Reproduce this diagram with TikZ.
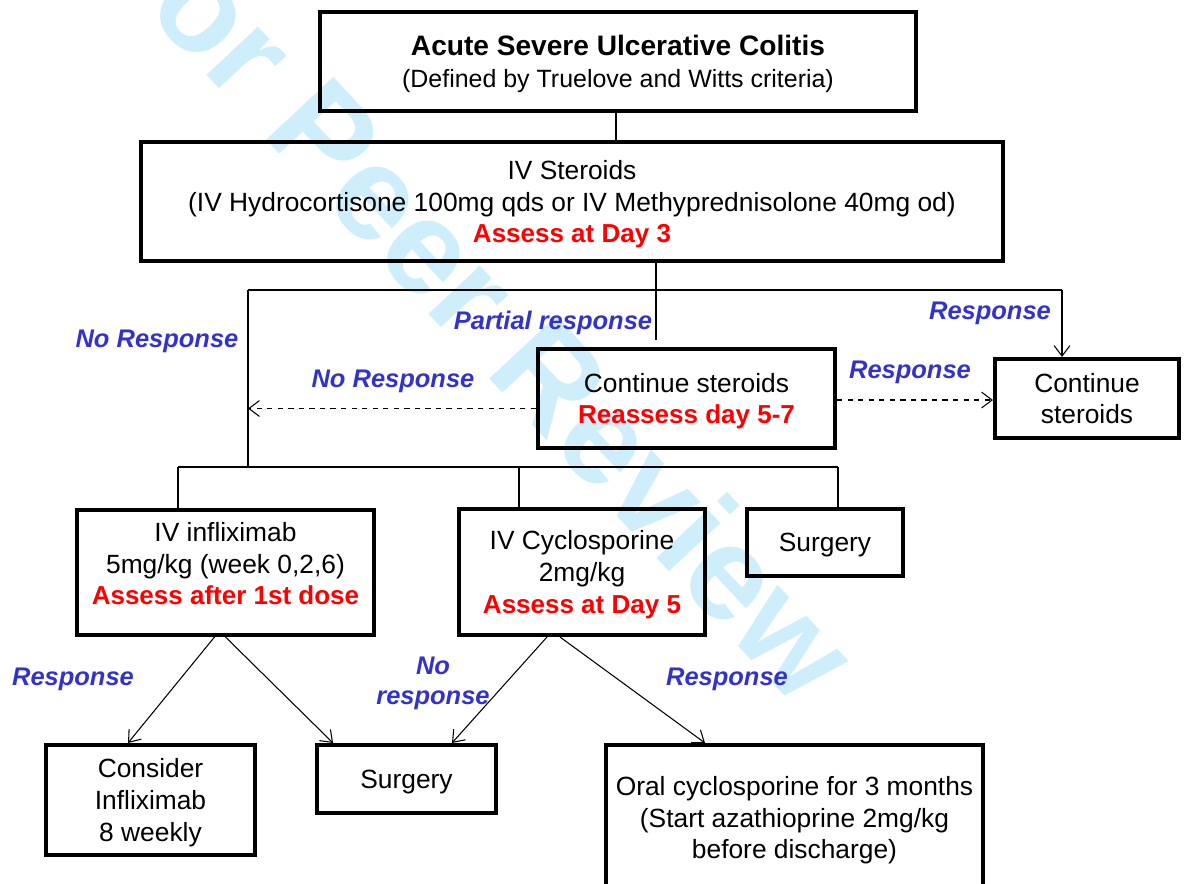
\documentclass[tikz,border=0pt]{standalone}
\usepackage{fontspec}
\setmainfont{Liberation Sans}
\usetikzlibrary{arrows.meta}
\definecolor{lblue}{RGB}{51,51,204}
\definecolor{wmcyan}{RGB}{206,238,252}
\newcommand{\rd}[1]{{\color{red}\fontsize{14.8}{18}\selectfont\bfseries #1}}

\begin{document}
\begin{tikzpicture}[x=0.02cm, y=-0.02cm, >={Straight Barb[length=6pt,width=9pt]},
    box/.style={draw, line width=2.3pt, align=center, inner sep=0pt, text depth=-1.3pt, font=\fontsize{15}{18}\selectfont},
    lbl/.style={text=lblue, align=center, font=\fontsize{14.5}{17}\selectfont\bfseries\itshape},
    conn/.style={line width=0.6pt}]
    \useasboundingbox (0,0) rectangle (1184,883);
    \clip (0,0) rectangle (1184,883);

    % watermark
    \node[text=wmcyan, font=\fontsize{76}{76}\selectfont\bfseries, rotate=-47] (wmark) at (478,297) {For Peer Review};

    % boxes
    \node[box, minimum width=11.92cm, minimum height=1.98cm] (title) at (618,61.5)
        {{\fontsize{16}{18}\selectfont\bfseries Acute Severe Ulcerative Colitis}\\{\fontsize{14.2}{18}\selectfont(Defined by Truelove and Witts criteria)}};
    \node[box, minimum width=17.24cm, minimum height=2.38cm] (steroids) at (572,201.5)
        {IV Steroids\\(IV Hydrocortisone 100mg qds or IV Methyprednisolone 40mg od)\\\rd{Assess at Day 3}};
    \node[box, minimum width=5.94cm, minimum height=1.98cm] (reassess) at (686.5,398.5)
        {Continue steroids\\\rd{Reassess day 5-7}};
    \node[box, minimum width=3.68cm, minimum height=1.58cm] (contin) at (1087,398.5) {Continue\\steroids};
    \node[box, minimum width=5.94cm, minimum height=2.5cm] (inflix) at (225.5,572.5)
        {IV infliximab\\5mg/kg (week 0,2,6)\\\rd{Assess after 1st dose}\\[-8pt]~};
    \node[box, minimum width=4.92cm, minimum height=2.52cm] (cyclo) at (582,572)
        {IV Cyclosporine\\2mg/kg\\\rd{Assess at Day 5}};
    \node[box, minimum width=3.12cm, minimum height=1.34cm] (surgA) at (825,542.5) {Surgery};
    \node[box, minimum width=4.18cm, minimum height=2.2cm] (consider) at (150.5,800) {Consider\\Infliximab\\8 weekly};
    \node[box, minimum width=3.58cm, minimum height=1.36cm] (surgB) at (406.5,779) {Surgery};
    \node[box, minimum width=7.54cm, minimum height=2.9cm] (oral) at (794.5,817.5)
        {Oral cyclosporine for 3 months\\(Start azathioprine 2mg/kg\\before discharge)};

    % labels
    \node[lbl] (noresA) at (157,341) {No Response};
    \node[lbl] (partial) at (553,323) {Partial response};
    \node[lbl] (respA) at (990,313) {Response};
    \node[lbl] (noresB) at (393,381) {No Response};
    \node[lbl] (respB) at (910,372) {Response};
    \node[lbl] (respC) at (73,679) {Response};
    \node[lbl] (noresC) at (433,683) {No\\response};
    \node[lbl] (respD) at (727,679) {Response};

    % junctions
    \coordinate (jl) at (248,290);
    \coordinate (jr) at (1062,290);
    \coordinate (pr) at (656,340);
    \coordinate (jb) at (248,467);
    \coordinate (bl) at (178,467);
    \coordinate (bm) at (519,467);
    \coordinate (br) at (838,467);

    \draw[conn] ([xshift=-0.04cm]title.south) -- ([xshift=-0.04cm]title.south |- steroids.north);
    \draw[conn] (steroids.south -| pr) -- (pr);
    \draw[conn] (jl) -- (jr);
    \draw[conn, ->] (jr) -- (contin.north -| jr);
    \draw[conn] (jl) -- (jb);
    \draw[conn] (bl) -- (br);
    \draw[conn] (bl) -- (inflix.north -| bl);
    \draw[conn] (bm) -- (cyclo.north -| bm);
    \draw[conn] (br) -- (surgA.north -| br);
    \draw[conn, dashed, ->] ([yshift=-0.2cm]reassess.west) -- ([yshift=-0.2cm]reassess.west -| jb);
    \draw[conn, dashed, ->] ([yshift=-0.03cm]reassess.east) -- ([yshift=-0.03cm]reassess.east -| contin.west);

    \draw[conn, ->] ([xshift=-0.22cm]inflix.south) -- ([xshift=-0.45cm]consider.north);
    \draw[conn, ->] (inflix.south) -- ([xshift=-1.47cm]surgB.north);
    \draw[conn, ->] ([xshift=-0.7cm]cyclo.south) -- ([xshift=0.91cm]surgB.north);
    \draw[conn, ->] ([xshift=-0.44cm]cyclo.south) -- ([xshift=-1.79cm]oral.north);
\end{tikzpicture}
\end{document}
